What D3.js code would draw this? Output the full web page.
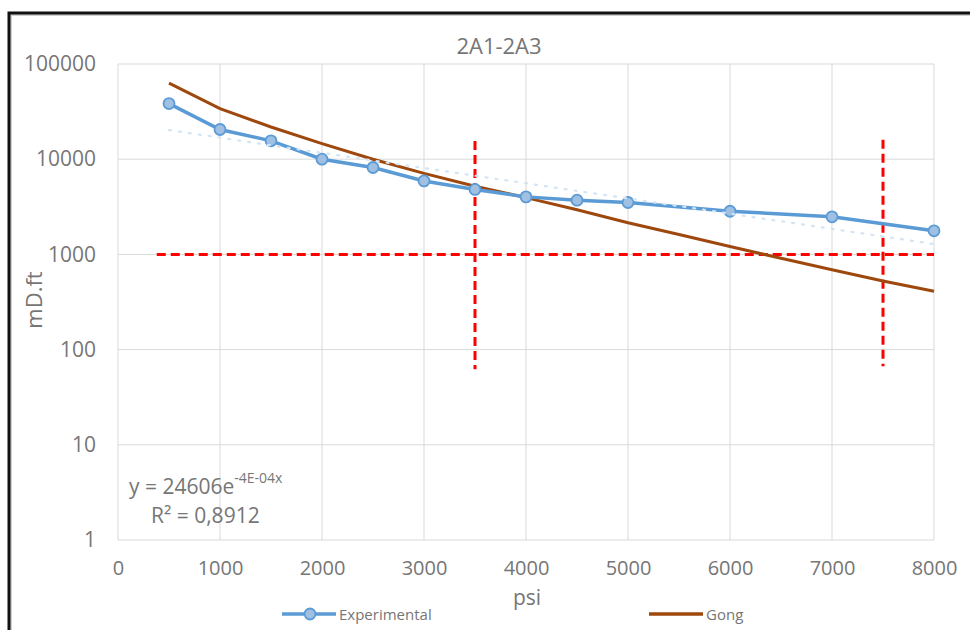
<!DOCTYPE html>
<html><head><meta charset="utf-8">
<script src="https://cdn.jsdelivr.net/npm/d3@7"></script>
<style>body{margin:0;background:#fff;} svg{display:block;} text{font-family:"Open Sans",sans-serif;fill:#767676;}</style>
</head><body>
<svg id="c" width="970" height="630"></svg>
<script>
const title = "2A1-2A3";
const xLabel = "psi";
const yLabel = "mD.ft";
const xTicks = [0,1000,2000,3000,4000,5000,6000,7000,8000];
const yTicks = [1,10,100,1000,10000,100000];
const expX = [500,1000,1500,2000,2500,3000,3500,4000,4500,5000,6000,7000,8000];
const expY = [38400,20500,15600,10000,8180,5910,4810,4020,3710,3510,2840,2480,1770];
const gongX = [500,1000,1500,2000,2500,3000,3500,4000,4500,5000,5500,6000,6500,7000,7500,8000];
const gongY = [63000,34000,21800,14600,10000,7100,5200,3950,2950,2150,1620,1210,910,690,525,410];
const limitY = 1000;
const limitXRange = [380,8000];
const limitX = [3500,7500];
const limitXTop = [15500,16000];
const limitXBottom = [62,67];
const seriesNames = ["Experimental","Gong"];
const eqText = "y = 24606e";
const eqSup = "-4E-04x";
const r2Text = "R² = 0,8912";

const svg = d3.select("#c");
const L=118,R=934,T=64,B=540;
const x = d3.scaleLinear().domain([0,8000]).range([L,R]);
const y = d3.scaleLog().domain([1,100000]).range([B,T]);

// frame
svg.append("path").attr("d","M10.5,630 L10.5,14.5 L970,14.5").attr("fill","none").attr("stroke","#d0d0d0").attr("stroke-width",3);
svg.append("path").attr("d","M9,630 L9,13 L970,13").attr("fill","none").attr("stroke","#111").attr("stroke-width",3);

// grid
const g = svg.append("g");
g.selectAll(".vx").data(xTicks).join("line").attr("x1",d=>x(d)).attr("x2",d=>x(d)).attr("y1",T).attr("y2",B).attr("stroke","#d9d9d9").attr("stroke-width",1);
g.selectAll(".hy").data(yTicks).join("line").attr("x1",L).attr("x2",R).attr("y1",d=>y(d)).attr("y2",d=>y(d)).attr("stroke","#d9d9d9").attr("stroke-width",1);

// axes labels via d3 axes
const xa = svg.append("g").attr("transform",`translate(0,${B})`).call(d3.axisBottom(x).tickValues(xTicks).tickFormat(d3.format("d")).tickSize(0).tickPadding(21));
xa.select(".domain").remove();
xa.selectAll("text").attr("font-size",20).attr("fill","#767676").attr("font-family","Open Sans");
const ya = svg.append("g").attr("transform",`translate(${L},0)`).call(d3.axisLeft(y).tickValues(yTicks).tickFormat(d3.format("d")).tickSize(0).tickPadding(22));
ya.select(".domain").remove();
ya.selectAll("text").attr("font-size",21).attr("fill","#767676").attr("font-family","Open Sans");

// title & axis titles
svg.append("text").attr("x",499).attr("y",54).attr("text-anchor","middle").attr("font-size",22).text(title);
svg.append("text").attr("x",527).attr("y",605).attr("text-anchor","middle").attr("font-size",21).text(xLabel);
svg.append("text").attr("transform","translate(42,300) rotate(-90)").attr("text-anchor","middle").attr("font-size",22).text(yLabel);

// limits
const red = svg.append("g");
red.append("line").attr("x1",x(limitXRange[0])).attr("x2",x(limitXRange[1])).attr("y1",y(limitY)).attr("y2",y(limitY))
  .attr("stroke","#ff0000").attr("stroke-width",3).attr("stroke-dasharray","9,5");
red.selectAll(".v").data(limitX).join("line").attr("x1",d=>x(d)).attr("x2",d=>x(d))
  .attr("y1",(d,i)=>y(limitXTop[i])).attr("y2",(d,i)=>y(limitXBottom[i]))
  .attr("stroke","#ff0000").attr("stroke-width",3).attr("stroke-dasharray","9,5");

// Gong
const line = d3.line().x(d=>x(d[0])).y(d=>y(d[1]));
svg.append("path").datum(d3.zip(gongX,gongY)).attr("d",line).attr("fill","none").attr("stroke","#9e480e").attr("stroke-width",3);

// experimental
const exp = d3.zip(expX,expY);
svg.append("path").datum(exp).attr("d",line).attr("fill","none").attr("stroke","#5b9bd5").attr("stroke-width",3.5);
svg.selectAll(".m").data(exp).join("circle").attr("cx",d=>x(d[0])).attr("cy",d=>y(d[1])).attr("r",5.5)
  .attr("fill","#9fbfe3").attr("stroke","#5b9bd5").attr("stroke-width",1.8);

// exponential trendline (least squares fit on ln y)
const lx = expX, ly = expY.map(v=>Math.log(v));
const mx = d3.mean(lx), my = d3.mean(ly);
const b = d3.sum(lx.map((v,i)=>(v-mx)*(ly[i]-my)))/d3.sum(lx.map(v=>(v-mx)*(v-mx)));
const a = my - b*mx;
const tx = [expX[0], expX[expX.length-1]];
const tl = d3.range(tx[0], tx[1]+1, 100).map(v=>[v, Math.exp(a+b*v)]);
svg.append("path").datum(tl).attr("d",line).attr("fill","none").attr("stroke","#d3e4f4").attr("stroke-width",2.2)
  .attr("stroke-dasharray","2,8").attr("stroke-linecap","round");

// equation
const eq = svg.append("text").attr("x",129).attr("y",494).attr("font-size",21);
eq.append("tspan").text(eqText);
eq.append("tspan").attr("dy",-11).attr("font-size",14).text(eqSup);
svg.append("text").attr("x",151).attr("y",523).attr("font-size",21).text(r2Text);

// legend
const lg = svg.append("g");
lg.append("line").attr("x1",282).attr("x2",336).attr("y1",614).attr("y2",614).attr("stroke","#5b9bd5").attr("stroke-width",3.5);
lg.append("circle").attr("cx",310).attr("cy",614).attr("r",5.5).attr("fill","#9fbfe3").attr("stroke","#5b9bd5").attr("stroke-width",1.8);
lg.append("text").attr("x",339).attr("y",619.5).attr("font-size",15).text(seriesNames[0]);
lg.append("line").attr("x1",649).attr("x2",703).attr("y1",614).attr("y2",614).attr("stroke","#9e480e").attr("stroke-width",3.5);
lg.append("text").attr("x",706).attr("y",619.5).attr("font-size",15).text(seriesNames[1]);
</script>
</body></html>
